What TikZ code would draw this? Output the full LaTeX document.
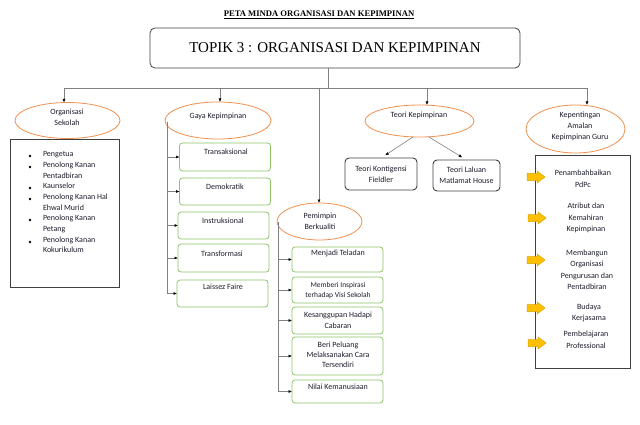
\documentclass[tikz,border=0pt]{standalone}
\usepackage{fontspec}
\setmainfont{Carlito}
\newfontfamily\serifT{Liberation Serif}
\usetikzlibrary{shapes.geometric,arrows.meta}
\definecolor{orng}{HTML}{F0904E}
\definecolor{grn}{HTML}{8CC46A}
\definecolor{lgray}{HTML}{808080}
\definecolor{dgray}{HTML}{404040}
\definecolor{yfill}{HTML}{FFC000}
\definecolor{yline}{HTML}{D9A300}
\definecolor{txtc}{HTML}{1C1C2C}
\begin{document}
\begin{tikzpicture}[x=1pt,y=-1pt,
  every node/.style={inner sep=0pt,outer sep=0pt,text=txtc},
  small/.style={font=\fontsize{8}{11}\selectfont,align=center},
  oval/.style={ellipse,draw=orng,line width=0.8pt,fill=white},
  gbox/.style={draw=grn,line width=0.8pt,rounded corners=3pt,minimum width=91pt},
  tbox/.style={draw=dgray,line width=0.9pt,rounded corners=4pt},
  plainbox/.style={draw=dgray,line width=0.7pt},
  conn/.style={draw=lgray,line width=0.6pt},
  arr/.style={conn,-{Latex[black,length=3.5pt,width=3pt]}},
  yarr/.style={fill=yfill,draw=yline,line width=0.5pt},
  yarrow/.pic={\filldraw[yarr] (-9,-3.5) -- (1,-3.5) -- (1,-6) -- (9,0) -- (1,6) -- (1,3.5) -- (-9,3.5) -- cycle;}
]
\useasboundingbox (0,0) rectangle (640,425);

% title
\node[font=\serifT\bfseries\fontsize{8.6}{10}\selectfont,text=black] (title) at (319,15) {\underline{PETA MINDA ORGANISASI DAN KEPIMPINAN}};
\node[draw=dgray,line width=0.8pt,rounded corners=5pt,minimum width=370pt,minimum height=40pt,
      font=\serifT\fontsize{15}{17}\selectfont,text=black] (top) at (335,48) {TOPIK 3 : ORGANISASI DAN KEPIMPINAN};

% ellipses
\node[oval,minimum width=105pt,minimum height=36pt] (org) at (67.5,120.5) {};
\node[oval,minimum width=106pt,minimum height=37pt] (gaya) at (218,120.5) {};
\node[oval,minimum width=109pt,minimum height=32pt] (teori) at (419.5,121) {};
\node[oval,minimum width=99pt,minimum height=48pt] (kep) at (575.5,129) {};
\node[oval,minimum width=85pt,minimum height=37pt] (pem) at (319.5,221.5) {};

\node[small] (orgt) at (67,117.5) {Organisasi\\Sekolah};
\node[small] (gayat) at (218,116) {Gaya Kepimpinan};
\node[small] (teorit) at (419,115) {Teori Kepimpinan};
\node[small] (kept) at (580,126) {Kepentingan\\Amalan\\Kepimpinan Guru};
\node[small] (pemt) at (320,221) {Pemimpin\\Berkualiti};

% main tree
\coordinate (hub) at (328,88);
\coordinate (hl) at (64,88);
\coordinate (hr) at (587,88);
\coordinate (hg) at (220,88);
\coordinate (ht) at (427,88);
\coordinate (hp) at (319,88);
\draw[conn] (top.south -| hub) -- (hub);
\draw[conn] (hl) -- (hr);
\draw[arr] (hl) -- (hl |- org.north);
\draw[arr] (hg) -- (hg |- gaya.north);
\draw[arr] (ht) -- (ht |- teori.north);
\draw[arr] (hr) -- (hr |- kep.north);
\draw[arr] (hp) -- (hp |- pem.north);

% left list
\node[plainbox,minimum width=109pt,minimum height=148pt] (lbox) at (64.5,213) {};
\foreach \y/\n in {156/1,167/2,188/3,199/4,220/5,242/6}{
  \fill[black] (30,\y) circle (1.3pt);
}
\node[font=\fontsize{8}{10.7}\selectfont,align=left,anchor=north west] (list) at (43,151.5)
 {Pengetua\\Penolong Kanan\\Pentadbiran\\Kaunselor\\Penolong Kanan Hal\\Ehwal Murid\\Penolong Kanan\\Petang\\Penolong Kanan\\Kokurikulum};

% gaya boxes
\node[gbox,minimum height=28pt] (g1) at (225,157) {};
\node[gbox,minimum height=27pt] (g2) at (225,191.5) {};
\node[gbox,minimum height=27pt] (g3) at (223.5,225.5) {};
\node[gbox,minimum height=28pt] (g4) at (223.5,258) {};
\node[gbox,minimum height=27pt] (g5) at (222.5,293.5) {};
\node[small] (g1t) at (226,152) {Transaksional};
\node[small] (g2t) at (225,187) {Demokratik};
\node[small] (g3t) at (223,221) {Instruksional};
\node[small] (g4t) at (222,254) {Transformasi};
\node[small] (g5t) at (223,287) {Laissez Faire};
\coordinate (gv) at (167,122);
\draw[conn] (gv) -- (gv |- g5.west);
\foreach \b in {g1,g2,g3,g4,g5}{\draw[arr] (gv |- \b.west) -- (\b.west);}

% pemimpin boxes
\node[gbox,minimum height=25pt] (p1) at (337.5,259.5) {};
\node[gbox,minimum height=26pt] (p2) at (337.5,290) {};
\node[gbox,minimum height=27pt] (p3) at (337.5,320.5) {};
\node[gbox,minimum height=38pt] (p4) at (337.5,356) {};
\node[gbox,minimum height=23pt] (p5) at (337.5,391.5) {};
\node[small] (p1t) at (338,253) {Menjadi Teladan};
\node[small,font=\fontsize{7.5}{10}\selectfont] (p2t) at (338,290) {Memberi Inspirasi\\terhadap Visi Sekolah};
\node[small] (p3t) at (338,320) {Kesanggupan Hadapi\\Cabaran};
\node[small,font=\fontsize{8}{10}\selectfont] (p4t) at (338,355) {Beri Peluang\\Melaksanakan Cara\\Tersendiri};
\node[small] (p5t) at (338,387) {Nilai Kemanusiaan};
\coordinate (pv) at (278,221.5);
\draw[conn] (pv) -- (pv |- p5.west);
\foreach \b in {p1,p2,p3,p4,p5}{\draw[arr] (pv |- \b.west) -- (\b.west);}

% teori boxes
\node[tbox,minimum width=72pt,minimum height=32pt] (t1) at (381,174) {};
\node[tbox,minimum width=67pt,minimum height=31pt] (t2) at (466.5,175.5) {};
\node[small] (t1t) at (381,174) {Teori Kontigensi\\Fieldler};
\node[small] (t2t) at (466.5,175) {Teori Laluan\\Matlamat House};
\draw[arr,shorten >=5pt] (teori.248) -- (t1.north);
\draw[arr,shorten >=5pt] (teori.300) -- (t2.north);

% right box
\node[plainbox,minimum width=95pt,minimum height=213pt] (rbox) at (582.5,261.5) {};
\node[small,font=\fontsize{8}{11.8}\selectfont] (r1) at (583,179) {Penambahbaikan\\PdPc};
\node[small,font=\fontsize{8}{11.5}\selectfont] (r2) at (586,218) {Atribut dan\\Kemahiran\\Kepimpinan};
\node[small,font=\fontsize{8}{11.5}\selectfont] (r3) at (587,270) {Membangun\\Organisasi\\Pengurusan dan\\Pentadbiran};
\node[small,font=\fontsize{8}{10.5}\selectfont] (r4) at (589,313) {Budaya\\Kerjasama};
\node[small,font=\fontsize{8}{12}\selectfont] (r5) at (586,340) {Pembelajaran\\Professional};
\pic at (536,177) {yarrow};
\pic at (537,218) {yarrow};
\pic at (536,260) {yarrow};
\pic at (536,308) {yarrow};
\pic at (537,343) {yarrow};
\end{tikzpicture}
\end{document}
